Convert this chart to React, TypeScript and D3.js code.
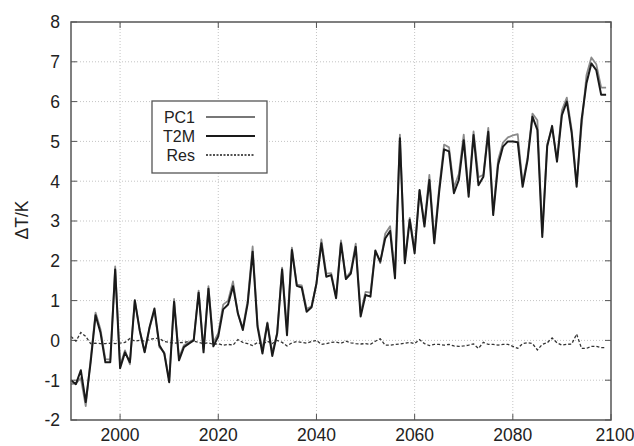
import React from "react";
import * as d3 from "d3";

const START_YEAR = 1990;

const T2M = [
  -1.0, -1.1, -0.75, -1.55, -0.55, 0.63, 0.2, -0.55, -0.55, 1.78,
  -0.7, -0.3, -0.55, 1.0, 0.25, -0.3, 0.33, 0.8, -0.12, -0.33,
  -1.05, 0.97, -0.5, -0.17, -0.08, 0.0, 1.2, -0.3, 1.3, -0.15,
  0.1, 0.78, 0.9, 1.36, 0.68, 0.26, 0.93, 2.23, 0.34, -0.33,
  0.43, -0.39, 0.18, 1.78, 0.13, 2.27, 1.37, 1.33, 0.72, 0.83,
  1.43, 2.44, 1.6, 1.64, 1.06, 2.44, 1.54, 1.68, 2.35, 0.6,
  1.14, 1.1, 2.25, 1.98, 2.56, 2.75, 1.56, 5.08, 1.94, 3.03,
  2.19, 3.78, 2.86, 4.03, 2.44, 3.74, 4.8, 4.75, 3.7, 4.03,
  5.03, 3.61, 5.16, 3.9, 4.11, 5.24, 3.15, 4.41, 4.87, 5.0,
  5.0, 4.98, 3.86, 4.53, 5.62, 5.29, 2.6, 4.87, 5.39, 4.49,
  5.66, 6.0, 5.2, 3.86, 5.54, 6.46, 6.96, 6.79, 6.17, 6.17,
];

const PC1 = [
  -1.1, -1.08, -0.95, -1.65, -0.47, 0.7, 0.28, -0.47, -0.48, 1.86,
  -0.63, -0.25, -0.6, 1.02, 0.25, -0.28, 0.31, 0.75, -0.17, -0.3,
  -1.0, 1.04, -0.44, -0.12, -0.05, 0.02, 1.25, -0.22, 1.36, -0.05,
  0.18, 0.9, 1.0, 1.48, 0.66, 0.31, 1.01, 2.36, 0.39, -0.23,
  0.45, -0.31, 0.18, 1.83, 0.27, 2.33, 1.4, 1.38, 0.79, 0.86,
  1.43, 2.54, 1.68, 1.69, 1.1, 2.51, 1.56, 1.74, 2.43, 0.69,
  1.22, 1.2, 2.27, 1.94, 2.68, 2.87, 1.66, 5.17, 2.01, 3.08,
  2.27, 3.76, 2.94, 4.16, 2.54, 3.84, 4.92, 4.85, 3.84, 4.18,
  5.17, 3.73, 5.25, 4.1, 4.16, 5.34, 3.25, 4.53, 4.97, 5.1,
  5.15, 5.18, 3.94, 4.59, 5.7, 5.53, 2.7, 4.93, 5.33, 4.55,
  5.78, 6.1, 5.29, 3.95, 5.38, 6.66, 7.11, 6.94, 6.35, 6.35,
];

const RES = [
  0.1, -0.02, 0.2, 0.1, -0.08, -0.07, -0.08, -0.08, -0.07, -0.08,
  -0.07, -0.05, 0.05, -0.02, 0.0, -0.02, 0.02, 0.05, 0.05, -0.03,
  -0.05, -0.07, -0.06, -0.05, -0.03, -0.02, -0.05, -0.08, -0.06, -0.1,
  -0.08, -0.12, -0.1, -0.12, 0.02, -0.05, -0.08, -0.13, -0.05, -0.1,
  -0.02, -0.08, 0.0, -0.05, -0.14, -0.06, -0.03, -0.05, -0.07, -0.03,
  0.0, -0.1, -0.08, -0.05, -0.04, -0.07, -0.02, -0.06, -0.08, -0.09,
  -0.08, -0.1, -0.02, 0.04, -0.12, -0.12, -0.1, -0.09, -0.07, -0.05,
  -0.08, 0.02, -0.08, -0.13, -0.1, -0.1, -0.12, -0.1, -0.14, -0.15,
  -0.14, -0.12, -0.09, -0.2, -0.05, -0.1, -0.1, -0.12, -0.1, -0.1,
  -0.15, -0.2, -0.08, -0.06, -0.08, -0.24, -0.1, -0.06, 0.06, -0.06,
  -0.12, -0.1, -0.09, 0.16, -0.2, -0.2, -0.15, -0.15, -0.18, -0.18,
];

const X_TICKS = [2000, 2020, 2040, 2060, 2080, 2100];
const Y_TICKS = [-2, -1, 0, 1, 2, 3, 4, 5, 6, 7, 8];
const LEGEND = ["PC1", "T2M", "Res"];
const Y_LABEL = "ΔT/K";

const W = 634;
const H = 446;
const FONT = "'Liberation Sans', Arial, sans-serif";

export default function App() {
  const x = d3.scaleLinear().domain([1990, 2100]).range([71, 611]);
  const y = d3.scaleLinear().domain([-2, 8]).range([420, 22]);
  const [x0, x1] = x.range();
  const [y0, y1] = y.range();

  const mk = (vals: number[]) =>
    d3
      .line<number>()
      .x((_, i) => x(START_YEAR + i))
      .y((v) => y(v))(vals) || "";

  const legendX = 152;
  const legendY = 101;
  const rowY = [117, 136, 155];

  return (
    <svg
      width={W}
      height={H}
      style={{ position: "absolute", left: 0, top: 0, background: "#fff" }}
      fontFamily={FONT}
    >
      {/* grid */}
      {Y_TICKS.filter((t) => t > -2 && t < 8).map((t) => (
        <line key={"gy" + t} x1={x0} x2={x1} y1={y(t)} y2={y(t)} stroke="#c4c4c4" strokeWidth={1} strokeDasharray="1,2" />
      ))}
      {X_TICKS.filter((t) => t < 2100).map((t) => (
        <line key={"gx" + t} x1={x(t)} x2={x(t)} y1={y0} y2={y1} stroke="#c4c4c4" strokeWidth={1} strokeDasharray="1,2" />
      ))}

      {/* ticks */}
      {Y_TICKS.map((t) => (
        <g key={"ty" + t}>
          <line x1={x0} x2={x0 + 6} y1={y(t)} y2={y(t)} stroke="#555" strokeWidth={1} />
          <line x1={x1} x2={x1 - 6} y1={y(t)} y2={y(t)} stroke="#555" strokeWidth={1} />
          <text x={60} y={y(t)} dy="0.36em" textAnchor="end" fontSize={17.5} fill="#222">
            {t}
          </text>
        </g>
      ))}
      {X_TICKS.map((t) => (
        <g key={"tx" + t}>
          <line x1={x(t)} x2={x(t)} y1={y0} y2={y0 - 6} stroke="#555" strokeWidth={1} />
          <line x1={x(t)} x2={x(t)} y1={y1} y2={y1 + 6} stroke="#555" strokeWidth={1} />
          <text x={x(t) + (t === 2100 ? 4 : 0)} y={441} textAnchor="middle" fontSize={17.5} fill="#222">
            {t}
          </text>
        </g>
      ))}

      {/* series */}
      <path d={mk(RES)} fill="none" stroke="#333" strokeWidth={1.3} strokeDasharray="3,2" />
      <path d={mk(PC1)} fill="none" stroke="#8a8a8a" strokeWidth={1.8} strokeLinejoin="round" />
      <path d={mk(T2M)} fill="none" stroke="#1a1a1a" strokeWidth={2} strokeLinejoin="round" />

      {/* frame */}
      <rect x={x0} y={y1} width={x1 - x0} height={y0 - y1} fill="none" stroke="#555" strokeWidth={1.5} />

      {/* legend */}
      <rect x={legendX} y={legendY} width={115} height={72} fill="#fff" stroke="#555" strokeWidth={1.3} />
      {LEGEND.map((name, i) => (
        <g key={name}>
          <text x={195} y={rowY[i]} dy="0.36em" textAnchor="end" fontSize={16} fill="#222">
            {name}
          </text>
          <line
            x1={206}
            x2={255}
            y1={rowY[i]}
            y2={rowY[i]}
            stroke={i === 0 ? "#777" : "#1a1a1a"}
            strokeWidth={i === 2 ? 1.3 : 1.8}
            strokeDasharray={i === 2 ? "2,1.5" : undefined}
          />
        </g>
      ))}

      {/* y label */}
      <text transform="translate(22,220) rotate(-90)" textAnchor="middle" dy="0.36em" fontSize={17.5} fill="#222">
        {Y_LABEL}
      </text>
    </svg>
  );
}
